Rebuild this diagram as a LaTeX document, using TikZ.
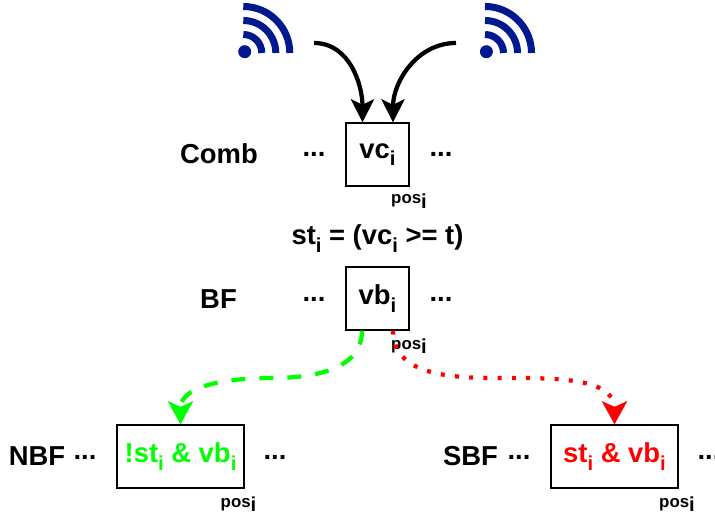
\documentclass[tikz,border=0pt]{standalone}
\usepackage{fontspec}
\setmainfont{Liberation Sans}
\usepackage{tikz}
\usetikzlibrary{arrows.meta}
\definecolor{wifiblue}{rgb}{0 0.1 0.56}
\definecolor{nbfgreen}{rgb}{0 1 0}
\definecolor{sbfred}{rgb}{1 0 0}
\newcommand{\subi}{\raisebox{-.28em}{\fontsize{11.5pt}{11.5pt}\selectfont i}}
\tikzset{
  lbl/.style={inner sep=0pt, anchor=base, font=\fontsize{15.6pt}{18pt}\selectfont\bfseries},
  poslbl/.style={inner sep=0pt, anchor=base, font=\fontsize{9.6pt}{11pt}\selectfont\bfseries},
  posbox/.style={draw, line width=.75pt, inner sep=0pt, minimum width=1.26cm, minimum height=1.26cm, font=\fontsize{15.6pt}{18pt}\selectfont\bfseries},
  widebox/.style={posbox, minimum width=2.54cm},
  link/.style={line width=.085cm, -{Stealth[length=.46cm,width=.46cm,inset=.11cm]}},
  wifi/.pic={
    \fill[wifiblue] (1.4,-1.3) circle (6.5);
    \draw[wifiblue, line width=.14cm] (18.5,0) arc[start angle=0, end angle=-90, radius=18.5];
    \draw[wifiblue, line width=.14cm] (32.5,0) arc[start angle=0, end angle=-90, radius=32.5];
    \draw[wifiblue, line width=.14cm] (46.5,0) arc[start angle=0, end angle=-90, radius=46.5];
  }
}
\begin{document}
\begin{tikzpicture}[x=.02cm, y=-.02cm]
    \useasboundingbox (0,0) rectangle (715,516);

    % antennas
    \pic at (243.3,53) {wifi};
    \pic at (485,53) {wifi};
    \coordinate (srcl) at (314,43);
    \coordinate (srcr) at (456,43);

    % boxes
    \node[posbox] (vc) at (377.5,154.5) {vc\subi};
    \node[posbox] (vb) at (377.5,298.5) {vb\subi};
    \node[widebox, text=nbfgreen] (nbf) at (180.5,456.5) {!st\subi{} \& vb\subi};
    \node[widebox, text=sbfred] (sbf) at (614.5,456.5) {st\subi{} \& vb\subi};

    % row labels
    \node[lbl] (comb) at (219,164) {Comb};
    \node[lbl] (bf) at (218.5,308) {BF};
    \node[lbl] (nbflbl) at (37,465.5) {NBF};
    \node[lbl] (sbflbl) at (470.5,465.5) {SBF};
    \node[lbl] (stdef) at (377.5,245) {st\subi{} = (vc\subi{} >= t)};

    % dots
    \node[lbl] (dotsa) at (314,157) {...};
    \node[lbl] (dotsb) at (441,157) {...};
    \node[lbl] (dotsc) at (314,301) {...};
    \node[lbl] (dotsd) at (441,301) {...};
    \node[lbl] (dotse) at (85,459) {...};
    \node[lbl] (dotsf) at (275,459) {...};
    \node[lbl] (dotsg) at (519,459) {...};
    \node[lbl] (dotsh) at (709,459) {...};

    % positions
    \node[poslbl] (posa) at (409,204) {pos\subi};
    \node[poslbl] (posb) at (409,349) {pos\subi};
    \node[poslbl] (posc) at (238.5,507) {pos\subi};
    \node[poslbl] (posd) at (677,507) {pos\subi};

    % arrows
    \draw[link] (srcl) to[out=0, in=90] ([xshift=-.3cm]vc.north);
    \draw[link] (srcr) to[out=180, in=90] ([xshift=.31cm]vc.north);
    \draw[link, nbfgreen, dash pattern=on .28cm off .28cm, -{Stealth[length=.46cm,width=.5cm,inset=.11cm]}] ([xshift=-.31cm]vb.south) to[out=-90, in=0] (271,378) to[out=180, in=90] (nbf.north);
    \draw[link, sbfred, dash pattern=on .08cm off .205cm, -{Stealth[length=.46cm,width=.5cm,inset=.11cm]}] ([xshift=.31cm]vb.south) to[out=-90, in=180] (502,378) to[out=0, in=90] (sbf.north);
\end{tikzpicture}
\end{document}
